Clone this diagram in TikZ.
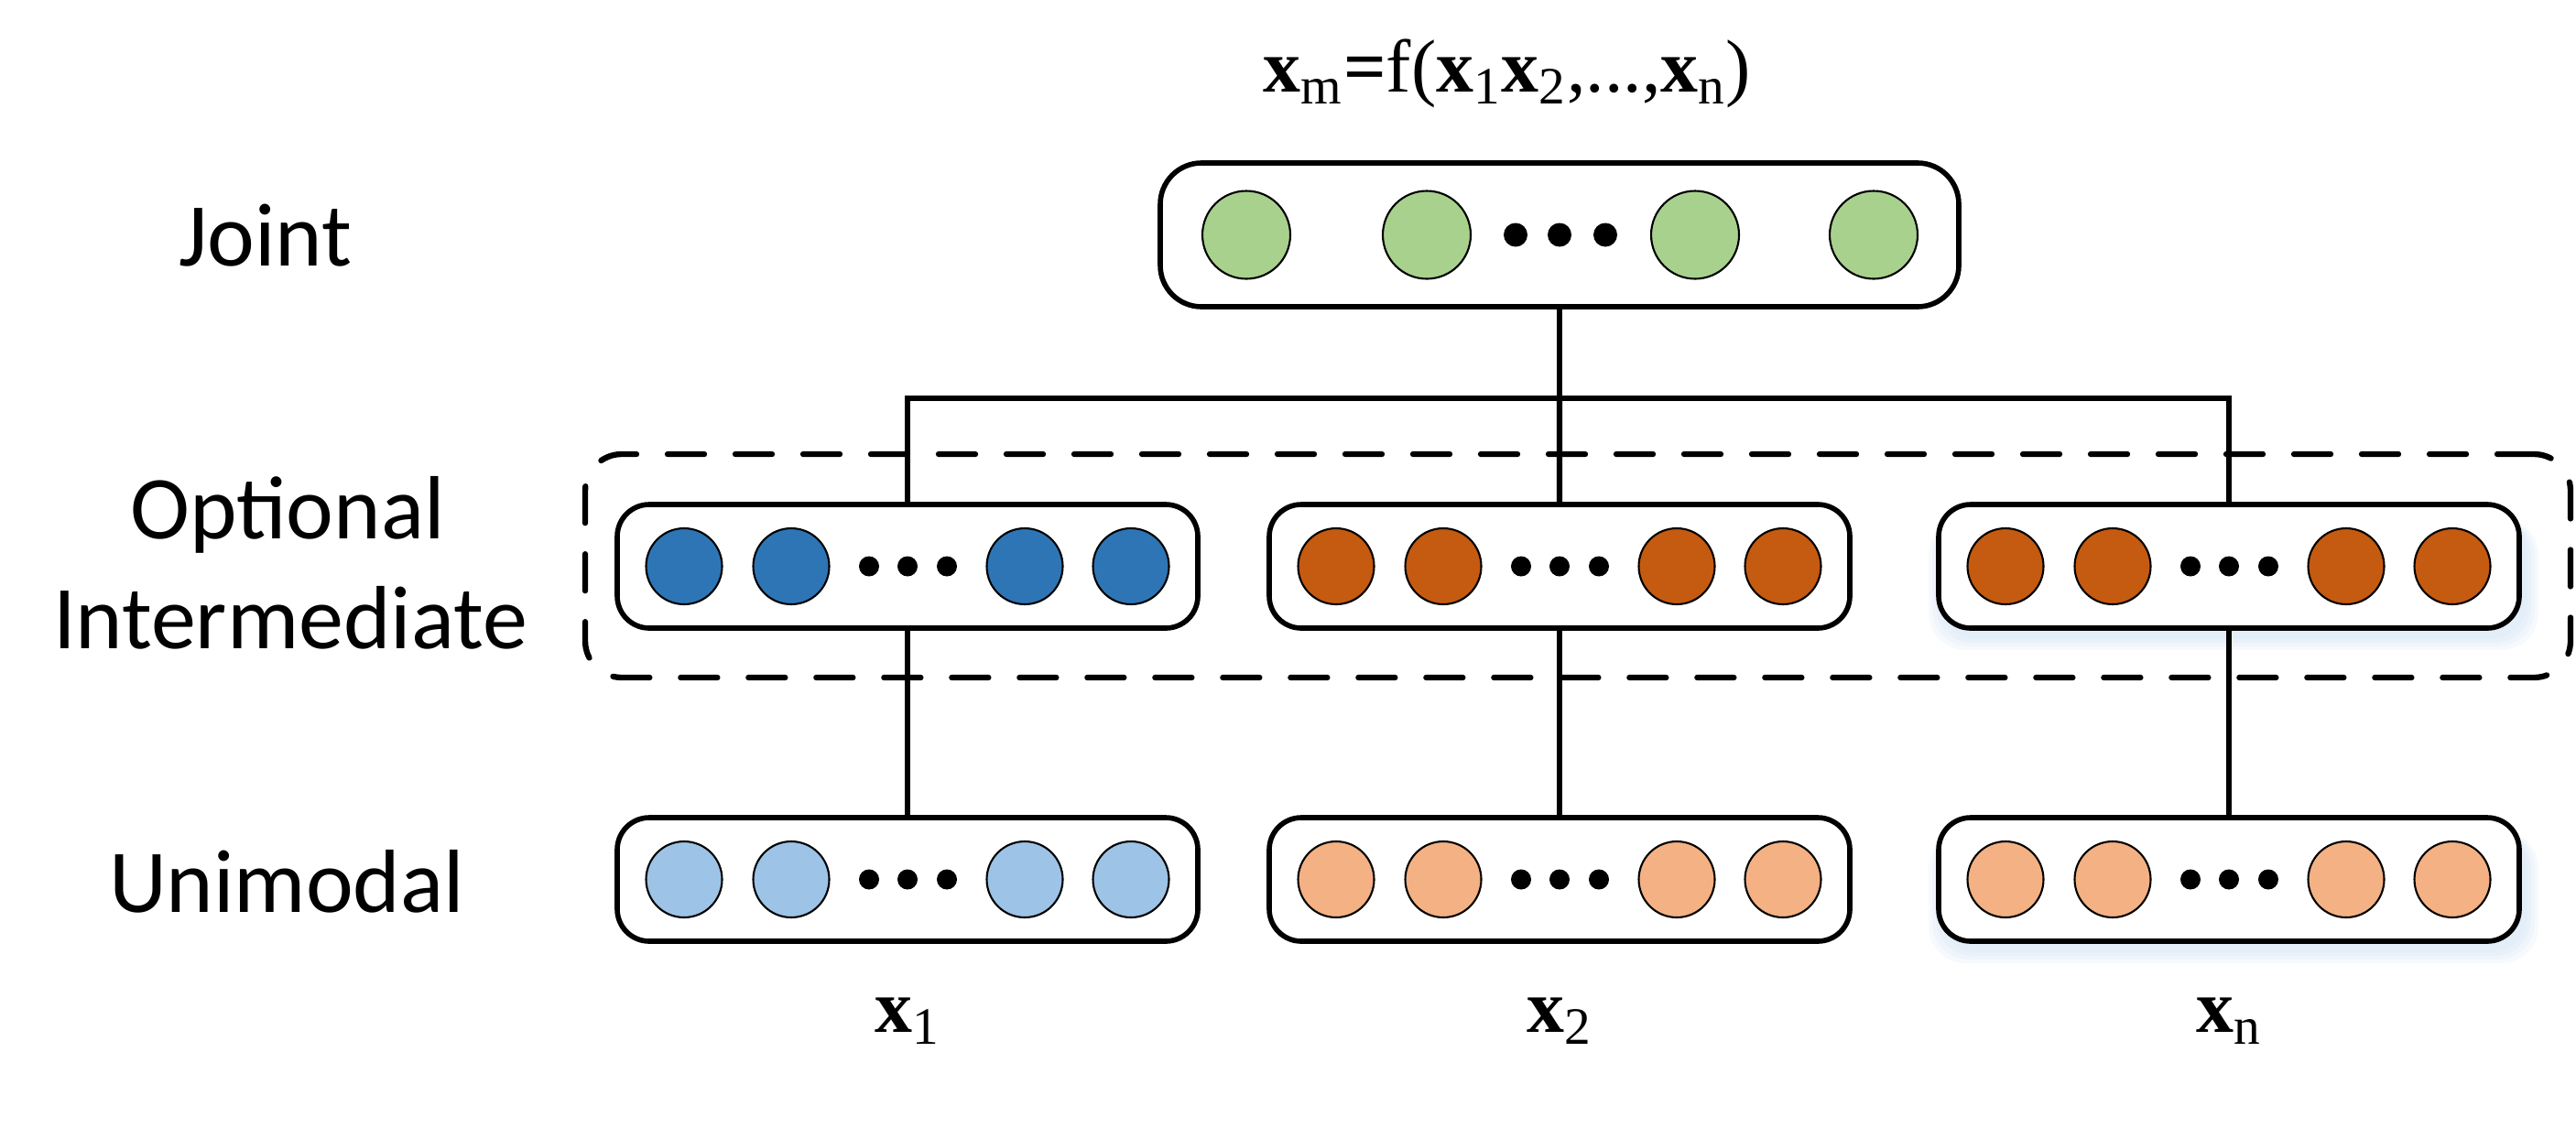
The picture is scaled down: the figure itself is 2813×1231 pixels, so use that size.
\documentclass[tikz,border=0pt]{standalone}
\usepackage{fontspec}
\setmainfont{Liberation Serif}
\newfontfamily\lblfont{Carlito}
\usepackage{xcolor}
\usetikzlibrary{positioning, calc, backgrounds}

\definecolor{jointgreen}{HTML}{A9D18E}
\definecolor{darkblue}{HTML}{2E75B6}
\definecolor{darkorange}{HTML}{C55A11}
\definecolor{lightblue}{HTML}{9DC3E6}
\definecolor{lightorange}{HTML}{F4B183}
\definecolor{glowblue}{HTML}{BDD7EE}

\begin{document}
\begin{tikzpicture}[
    x=0.1mm, y=-0.1mm,
    vecbox/.style={draw, fill=white, rounded corners=3.5mm, line width=1.6pt, minimum width=63.4mm, minimum height=13.5mm, outer sep=0pt},
    jointbox/.style={vecbox, rounded corners=4.5mm, minimum width=87.2mm, minimum height=15.7mm},
    unit/.style={circle, draw, line width=0.6pt, inner sep=0pt, minimum size=8.3mm},
    bigunit/.style={unit, minimum size=9.6mm},
    dot/.style={circle, fill=black, inner sep=0pt, minimum size=2.2mm},
    bigdot/.style={dot, minimum size=2.6mm},
    link/.style={line width=1.8pt},
    optframe/.style={draw, dash pattern=on 4mm off 3.4mm, line cap=round, line width=1.8pt, rounded corners=4mm, minimum width=216.8mm, minimum height=24.4mm},
    level/.style={font=\lblfont\fontsize{27.9}{34}\selectfont, anchor=base},
    var/.style={font=\fontsize{23.3}{28}\selectfont, anchor=base}
  ]
  \useasboundingbox (0,0) rectangle (2813,1231);

  % levels
  \node[level] (lvjoint) at (290,290) {Joint};
  \node[level] (lvopt) at (314,588) {Optional};
  \node[level] (lvint) at (317,708) {Intermediate};
  \node[level] (lvuni) at (313,996) {Unimodal};

  % boxes
  \node[jointbox] (joint) at (1703,256.5) {};
  \node[vecbox] (mid1) at (991,618.5) {};
  \node[vecbox, right=7.8mm of mid1] (mid2) {};
  \node[vecbox, right=9.7mm of mid2] (mid3) {};
  \node[vecbox, below=20.7mm of mid1] (uni1) {};
  \node[vecbox, below=20.7mm of mid2] (uni2) {};
  \node[vecbox, below=20.7mm of mid3] (uni3) {};

  % soft glow behind the last column
  \begin{scope}[on background layer]
    \foreach \b in {mid3, uni3}
      \foreach \s in {0.4,0.8,...,2.0}
        \fill[glowblue, opacity=0.13, rounded corners=4mm]
          ([shift={(-\s mm+0.5mm,-\s mm-0.8mm)}]\b.south west) rectangle ([shift={(\s mm+0.5mm,-1.5mm)}]\b.north east);
  \end{scope}

  % units
  \foreach \dx [count=\i] in {-342,-145,148,343}
    \node[bigunit, fill=jointgreen] (joint-u\i) at ($(joint)+(\dx,0)$) {};
  \foreach \dx [count=\i] in {-48,0,50}
    \node[bigdot] (joint-d\i) at ($(joint)+(\dx,0)$) {};
  \foreach \b/\c in {mid1/darkblue, mid2/darkorange, mid3/darkorange, uni1/lightblue, uni2/lightorange, uni3/lightorange} {
    \foreach \dx [count=\i] in {-244,-127,128,244}
      \node[unit, fill=\c] (\b-u\i) at ($(\b)+(\dx,0)$) {};
    \foreach \dx [count=\i] in {-42,0,43}
      \node[dot] (\b-d\i) at ($(\b)+(\dx,0)$) {};
  }

  % optional frame
  \node[optframe] (opt) at (1723,618) {};

  % connectors
  \coordinate (bus) at (1703,435);
  \draw[link] (joint.south) -- (bus);
  \draw[link] (mid1.north) |- (bus) -| (mid3.north);
  \draw[link] (bus) -- (mid2.north);
  \draw[link] (mid1.south) -- (uni1.north);
  \draw[link] (mid2.south) -- (uni2.north);
  \draw[link] (mid3.south) -- (uni3.north);

  % variables
  \node[var] (fml) at (1646,100) {\textbf{x}\textsubscript{m}\textbf{=}f(\textbf{x}\textsubscript{1}\textbf{x}\textsubscript{2},...,\textbf{x}\textsubscript{n})};
  \node[var] (x1) at (991,1127) {\textbf{x}\textsubscript{1}};
  \node[var] (x2) at (1703,1127) {\textbf{x}\textsubscript{2}};
  \node[var] (xn) at (2434,1127) {\textbf{x}\textsubscript{n}};
\end{tikzpicture}
\end{document}
